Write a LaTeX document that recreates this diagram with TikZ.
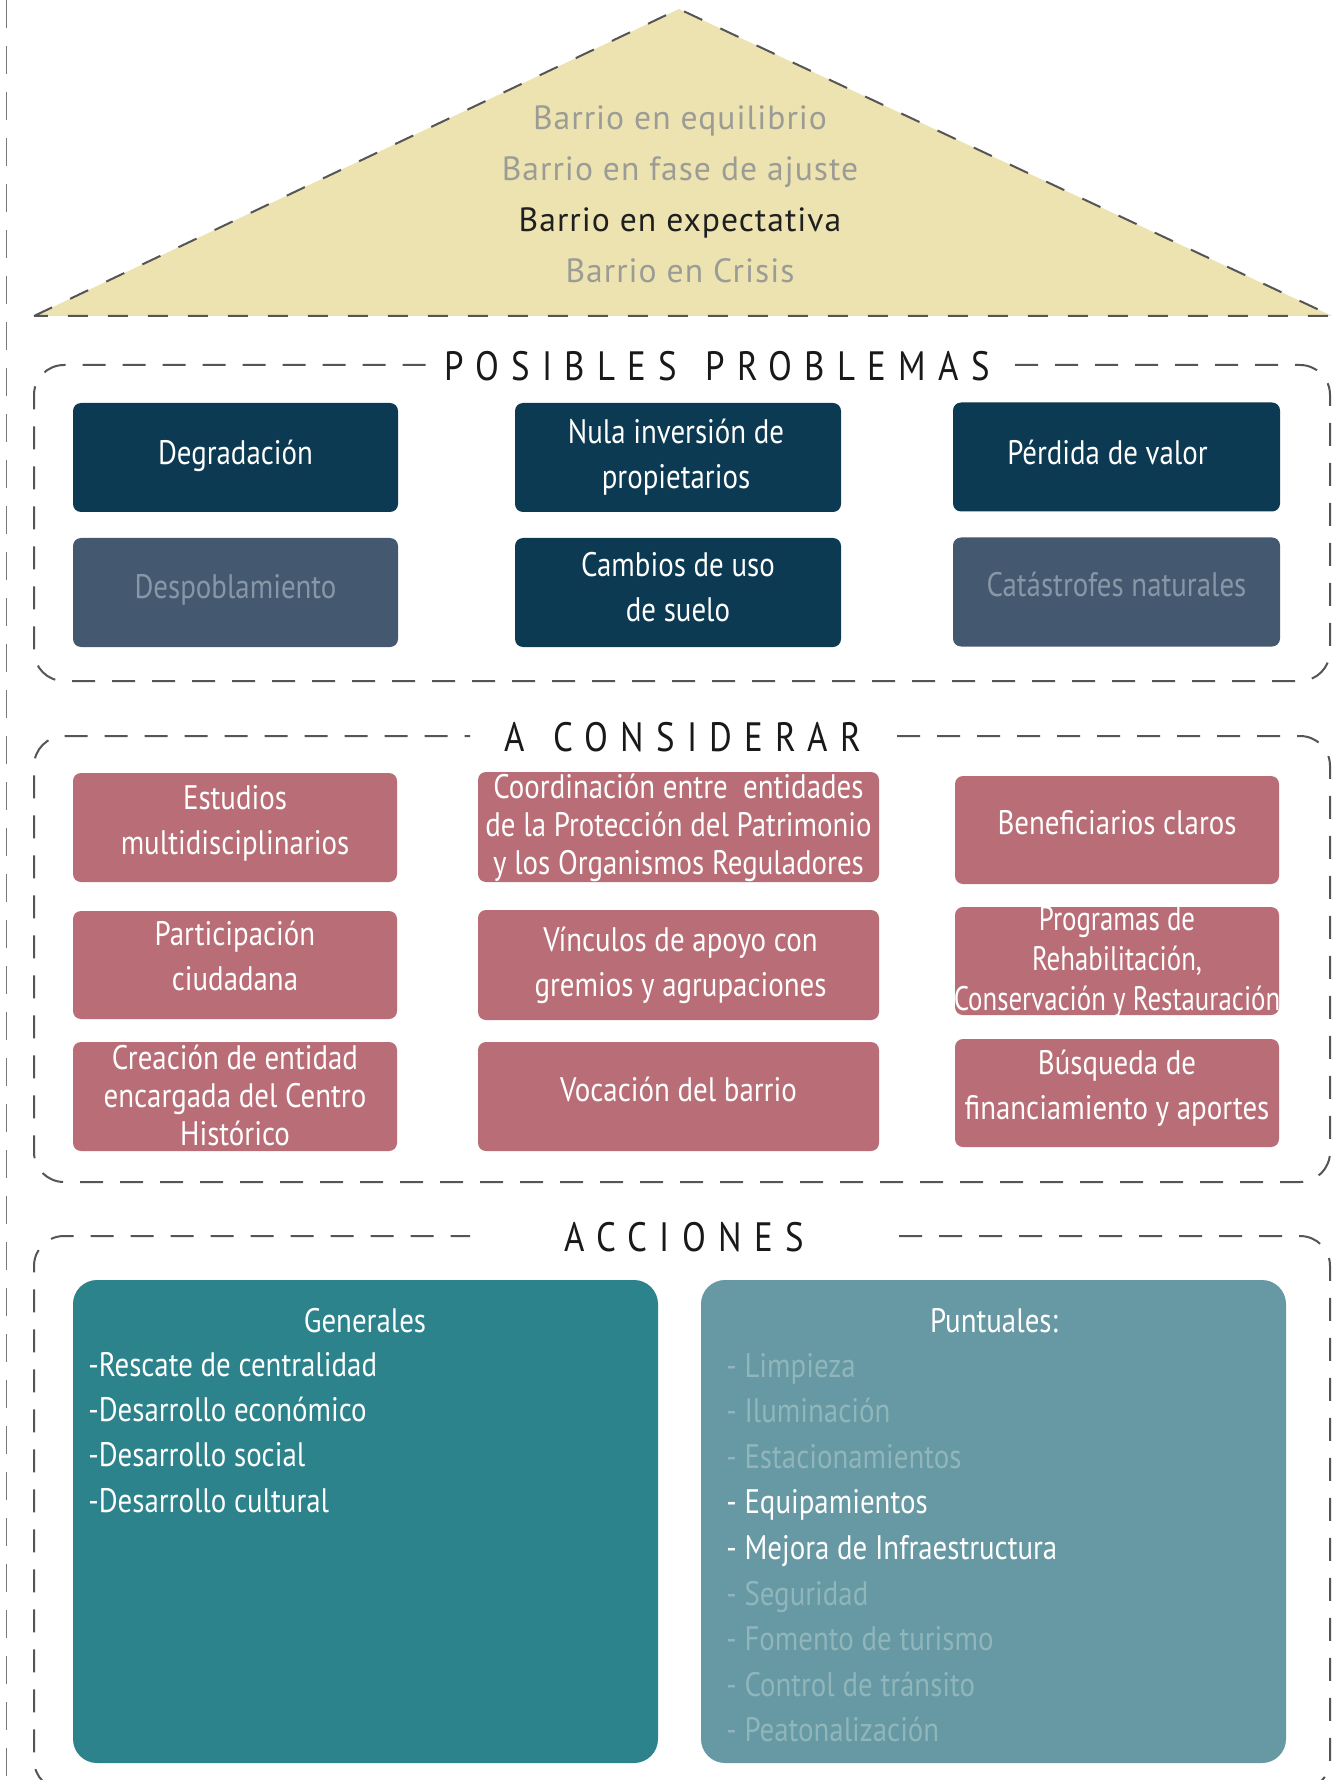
\documentclass[tikz,border=0pt]{standalone}
\usepackage{fontspec}
\setmainfont{PT Sans}
\newfontfamily\condf{PT Sans}[FakeStretch=0.85]
\newfontfamily\condg{PT Sans}[FakeStretch=0.79]
\newfontfamily\titlef{PT Sans}[FakeStretch=0.85,LetterSpace=30]
\newfontfamily\rooff{PT Sans}[LetterSpace=3]
\definecolor{navy}{HTML}{0B3A52}
\definecolor{slate}{HTML}{44596F}
\definecolor{slatetxt}{HTML}{8897A8}
\definecolor{rose}{HTML}{B96E77}
\definecolor{tealA}{HTML}{2C838B}
\definecolor{tealB}{HTML}{6699A3}
\definecolor{fadetxt}{HTML}{90B6BC}
\definecolor{roofc}{HTML}{EDE3B1}
\definecolor{rooftxt}{HTML}{9C9C96}
\definecolor{dashc}{HTML}{555555}
\tikzset{
  sz/.style 2 args={minimum width=#1*0.5pt, minimum height=#2*0.5pt},
  boxbase/.style={rounded corners=4pt, inner sep=0pt},
  pbox/.style={boxbase, fill=navy},
  pboxb/.style={boxbase, fill=slate},
  cbox/.style={boxbase, fill=rose},
  btxt/.style={inner sep=0pt, align=center, text=white, font=\condf\fontsize{17}{22.5}\selectfont},
  btxtb/.style={btxt, text=slatetxt},
  ctxt/.style={btxt, font=\condf\fontsize{17}{19}\selectfont},
  gbox/.style={rounded corners=12pt, inner sep=0pt, fill=tealA},
  tbox/.style={rounded corners=12pt, inner sep=0pt, fill=tealB},
  ltxt/.style={inner sep=0pt, text=white, font=\condf\fontsize{17}{22}\selectfont},
  ftxt/.style={ltxt, text=fadetxt},
  ttl/.style={inner sep=0pt, text=black!90, font=\titlef\fontsize{20.5}{22}\selectfont},
  rooft/.style={inner sep=0pt, text=rooftxt, font=\rooff\fontsize{16.8}{20}\selectfont},
  cont/.style={draw=dashc, line width=1pt, dash pattern=on 11.5pt off 8.5pt, rounded corners=15pt},
  roofline/.style={draw=dashc, line width=1pt, dash pattern=on 10pt off 10pt, fill=roofc},
  outerline/.style={draw=dashc!80, line width=0.6pt, dash pattern=on 14pt off 9pt}
}
\begin{document}
\begin{tikzpicture}[x=0.5pt,y=-0.5pt]
\useasboundingbox (0,0) rectangle (1338,1780);
\fill[white] (0,0) rectangle (1338,1780);
% outer left line
\draw[outerline] (6.5,0) -- (6.5,1780);
% roof
\draw[roofline] (34,316) -- (679,9) -- (1332,316) -- cycle;
\node[rooft, anchor=base] (r1) at (680,130) {Barrio en equilibrio};
\node[rooft, anchor=base] (r2) at (680,181) {Barrio en fase de ajuste};
\node[rooft, anchor=base, text=black!88] (r3) at (680,232) {Barrio en expectativa};
\node[rooft, anchor=base] (r4) at (680,283) {Barrio en Crisis};
% containers
\draw[cont] (1015,365) -- (1330,365) -- (1330,681) -- (34,681) -- (34,365) -- (430,365);
\draw[cont] (897,736) -- (1330,736) -- (1330,1182) -- (34,1182) -- (34,736) -- (470,736);
\draw[cont] (899,1236) -- (1330,1236) -- (1330,1790) -- (34,1790) -- (34,1236) -- (470,1236);
% titles
\node[ttl, anchor=base] (tprob) at (717,381) {POSIBLES\hspace{14pt}PROBLEMAS};
\node[ttl, anchor=base] (tcons) at (683,751) {A\hspace{14pt}CONSIDERAR};
\node[ttl, anchor=base] (tacc) at (684,1251) {ACCIONES};
% posibles problemas
\node[pbox, sz={325}{109}] (degr) at (235.5,457.5) {};
\node[btxt] (degrt) at ([yshift=1pt]degr.center) {Degradación};
\node[pbox, sz={326}{109}] (nula) at (678,457.5) {};
\node[btxt] (nulat) at ([xshift=-1pt]nula.center) {Nula inversión de\\propietarios};
\node[pbox, sz={327}{109}] (perd) at (1116.5,457) {};
\node[btxt] (perdt) at ([xshift=-4.5pt,yshift=2.5pt]perd.center) {Pérdida de valor};
\node[pboxb, sz={325}{109}] (desp) at (235.5,592.5) {};
\node[btxtb] (despt) at ([yshift=1.5pt]desp.center) {Despoblamiento};
\node[pbox, sz={326}{109}] (camb) at (678,592.5) {};
\node[btxt] (cambt) at ([yshift=2.5pt]camb.center) {Cambios de uso\\de suelo};
\node[pboxb, sz={327}{109}] (cata) at (1116.5,592) {};
\node[btxtb] (catat) at ([yshift=4pt]cata.center) {Catástrofes naturales};
% a considerar
\node[cbox, sz={324}{109}] (estu) at (235,827.5) {};
\node[btxt] (estut) at ([yshift=2pt]estu.center) {Estudios\\multidisciplinarios};
\node[cbox, sz={401}{110}] (coor) at (678.5,827) {};
\node[ctxt] (coort) at ([yshift=-0.5pt]coor.center) {Coordinación entre\ \ entidades\\de la Protección del Patrimonio\\y los Organismos Reguladores};
\node[cbox, sz={324}{108}] (bene) at (1117,830) {};
\node[btxt] (benet) at ([yshift=3.5pt]bene.center) {Beneficiarios claros};
\node[cbox, sz={324}{108}] (part) at (235,965) {};
\node[btxt] (partt) at ([yshift=4.5pt]part.center) {Participación\\ciudadana};
\node[cbox, sz={401}{110}] (vinc) at (678.5,965) {};
\node[btxt] (vinct) at ([xshift=1pt]vinc.center) {Vínculos de apoyo con\\gremios y agrupaciones};
\node[cbox, sz={324}{108}] (prog) at (1117,961) {};
\node[ctxt, font=\condg\fontsize{17}{20}\selectfont] (progt) at ([yshift=-0.5pt]prog.center) {Programas de\\Rehabilitación,\\Conservación y Restauración};
\node[cbox, sz={324}{109}] (crea) at (235,1096.5) {};
\node[ctxt] (creat) at ([yshift=0.75pt]crea.center) {Creación de entidad\\encargada del Centro\\Histórico};
\node[cbox, sz={401}{109}] (voca) at (678.5,1096.5) {};
\node[btxt] (vocat) at ([yshift=3.5pt]voca.center) {Vocación del barrio};
\node[cbox, sz={324}{108}] (busq) at (1117,1093) {};
\node[btxt] (busqt) at ([yshift=2.5pt]busq.center) {Búsqueda de\\financiamiento y aportes};
% acciones
\node[gbox, sz={585}{483}] (gen) at (365.5,1521.5) {};
\node[ltxt, anchor=base] (gent) at (365,1332) {Generales};
\node[ltxt, anchor=base west] (g1) at (88,1376) {-Rescate de centralidad};
\node[ltxt, anchor=base west] (g2) at (88,1421.3) {-Desarrollo económico};
\node[ltxt, anchor=base west] (g3) at (88,1466.6) {-Desarrollo social};
\node[ltxt, anchor=base west] (g4) at (88,1512) {-Desarrollo cultural};
\node[tbox, sz={585}{483}] (pun) at (993.5,1521.5) {};
\node[ltxt, anchor=base] (punt) at (994,1332) {Puntuales:};
\node[ftxt, anchor=base west] (p1) at (726,1377) {- Limpieza};
\node[ftxt, anchor=base west] (p2) at (726,1422.6) {- Iluminación};
\node[ftxt, anchor=base west] (p3) at (726,1468.2) {- Estacionamientos};
\node[ltxt, anchor=base west] (p4) at (726,1513.8) {- Equipamientos};
\node[ltxt, anchor=base west] (p5) at (726,1559.4) {- Mejora de Infraestructura};
\node[ftxt, anchor=base west] (p6) at (726,1605) {- Seguridad};
\node[ftxt, anchor=base west] (p7) at (726,1650.6) {- Fomento de turismo};
\node[ftxt, anchor=base west] (p8) at (726,1696.2) {- Control de tránsito};
\node[ftxt, anchor=base west] (p9) at (726,1741.8) {- Peatonalización};
\end{tikzpicture}
\end{document}
